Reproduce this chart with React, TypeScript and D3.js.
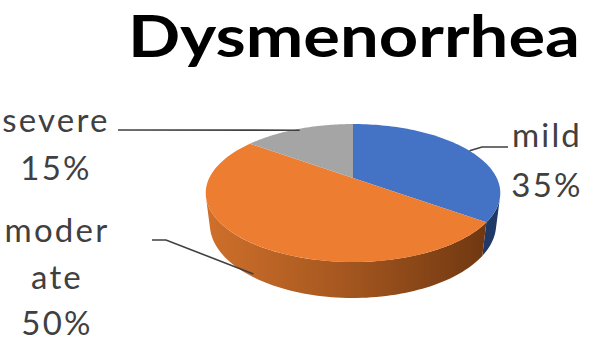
import React from "react";
import * as d3 from "d3";

const W = 597;
const H = 344;

const title = "Dysmenorrhea";
const categories = ["mild", "moderate", "severe"];
const values = [35, 50, 15];
const percentLabels = ["35%", "50%", "15%"];
const nameLines = [["mild"], ["moder", "ate"], ["severe"]];
const topColors = ["#4472C4", "#ED7D31", "#A5A5A5"];
const sideLight = ["#2F5597", "#D0702B", "#8A8A8A"];
const sideDark = ["#1F3864", "#6A340F", "#5A5A5A"];

// 3D projection setup
const AX = 353;
const AY = 178;
const F = 588;
const DIST = 4.09;
const PHI = (27.2 * Math.PI) / 180;
const SP = Math.sin(PHI);
const CP = Math.cos(PHI);
const DEPTH = 0.246;

function project(theta: number, r: number, z: number): [number, number] {
  const X = r * Math.sin(theta);
  const Y = r * Math.cos(theta);
  const depth = Y * CP - z * SP + DIST;
  const up = Y * SP + z * CP;
  return [AX + (X * F) / depth, AY - (up * F) / depth];
}

// visible range of the outer wall
const visLimit = Math.acos(-1 / (DIST * CP));
const visStart = visLimit;
const visEnd = 2 * Math.PI - visLimit;

const line = d3.line<[number, number]>().curve(d3.curveLinear);

function samples(a0: number, a1: number, n = 80): number[] {
  return d3.range(n + 1).map((i) => a0 + ((a1 - a0) * i) / n);
}

function topPath(a0: number, a1: number): string {
  const pts: [number, number][] = [project(0, 0, 0)];
  samples(a0, a1).forEach((a) => pts.push(project(a, 1, 0)));
  return line(pts) + "Z";
}

function sidePath(a0: number, a1: number): string | null {
  const s = Math.max(a0, visStart);
  const e = Math.min(a1, visEnd);
  if (e <= s) return null;
  const topArc = samples(s, e).map((a) => project(a, 1, 0));
  const botArc = samples(e, s).map((a) => project(a, 1, -DEPTH));
  return line([...topArc, ...botArc]) + "Z";
}

// label layout (text positions)
const labelFont = "Lato, 'Open Sans', sans-serif";
const labelLayout = [
  { x: 547, baselines: [147, 197], leader: (p: [number, number]) => [p, [482, 147], [508, 147]] },
  { x: 57, baselines: [242, 289, 335], leader: (p: [number, number]) => [[152, 240], [166, 240], p] },
  { x: 56, baselines: [132, 180], leader: (p: [number, number]) => [[118, 130], p] },
];
const anchorSpec = [
  { r: 1.0, z: 0 },
  { r: 1.0, z: -DEPTH * 0.9 },
  { r: 0.97, z: 0 },
];

export default function App() {
  const pie = d3
    .pie<number>()
    .sort(null)
    .value((d) => d)
    .startAngle(0)
    .endAngle(2 * Math.PI);
  const arcs = pie(values);

  return (
    <svg
      width={W}
      height={H}
      style={{ position: "absolute", left: 0, top: 0, background: "#fff" }}
    >
      <defs>
        {arcs.map((_, i) => (
          <linearGradient
            key={i}
            id={`side${i}`}
            gradientUnits="userSpaceOnUse"
            x1={AX - 150}
            x2={AX + 150}
            y1={0}
            y2={0}
          >
            <stop offset="0%" stopColor={sideLight[i]} />
            <stop offset="45%" stopColor={d3.interpolateRgb(sideLight[i], sideDark[i])(0.4)} />
            <stop offset="100%" stopColor={sideDark[i]} />
          </linearGradient>
        ))}
      </defs>
      <rect width={W} height={H} fill="#fff" />
      <text
        x={128}
        y={57}
        fontFamily="Lato, 'Open Sans', sans-serif"
        fontWeight={700}
        fontSize={58}
        fill="#000"
        textLength={452}
        lengthAdjust="spacingAndGlyphs"
      >
        {title}
      </text>

      {/* side walls */}
      {arcs.map((a, i) => {
        const p = sidePath(a.startAngle, a.endAngle);
        return p ? <path key={`s${i}`} d={p} fill={`url(#side${i})`} /> : null;
      })}
      {/* top faces */}
      {arcs.map((a, i) => (
        <path key={`t${i}`} d={topPath(a.startAngle, a.endAngle)} fill={topColors[i]} />
      ))}

      {/* leader lines */}
      {arcs.map((a, i) => {
        const mid = (a.startAngle + a.endAngle) / 2;
        const anc = project(mid, anchorSpec[i].r, anchorSpec[i].z);
        const pts = labelLayout[i].leader(anc) as [number, number][];
        return (
          <path
            key={`l${i}`}
            d={line(pts) || ""}
            fill="none"
            stroke="#404040"
            strokeWidth={1.6}
          />
        );
      })}

      {/* labels */}
      {categories.map((c, i) => {
        const lines = [...nameLines[i], percentLabels[i]];
        return (
          <text
            key={c}
            fontFamily={labelFont}
            fontSize={33}
            letterSpacing={2.2}
            fill="#404040"
            textAnchor="middle"
          >
            {lines.map((t, j) => (
              <tspan key={j} x={labelLayout[i].x} y={labelLayout[i].baselines[j]}>
                {t}
              </tspan>
            ))}
          </text>
        );
      })}
    </svg>
  );
}
